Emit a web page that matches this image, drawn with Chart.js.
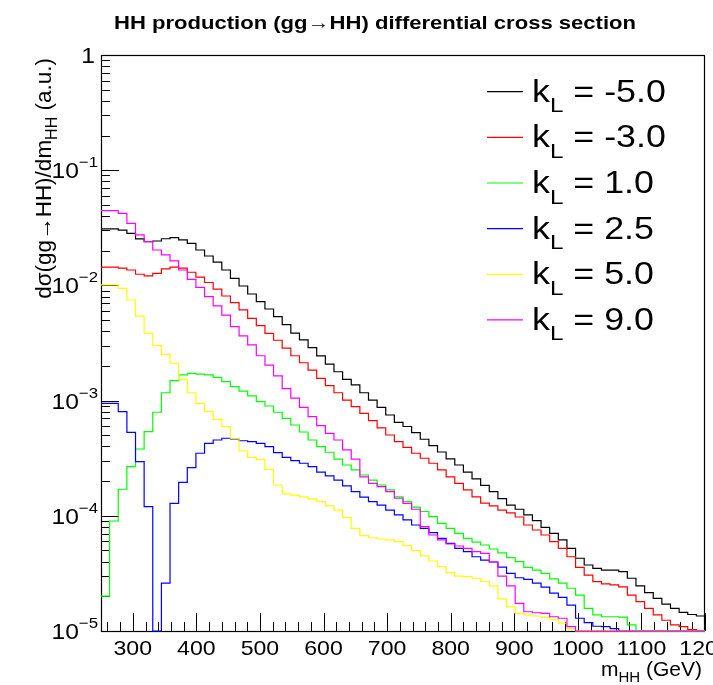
<!DOCTYPE html>
<html><head><meta charset="utf-8">
<script src="https://cdn.jsdelivr.net/npm/chart.js@4.4.1/dist/chart.umd.min.js"></script>
<style>html,body{margin:0;padding:0;background:#fff;overflow:hidden}#wrap{width:713px;height:685px;position:relative}canvas{display:block}</style>
</head><body><div id="wrap"><canvas id="c" width="713" height="685"></canvas></div>
<script>
// ---- histogram binning (m_HH, GeV) ----
const xLow = 250, xHigh = 1200, nBins = 70;
// ---- series ----
const seriesLabels = ['-5.0', '-3.0', '1.0', '2.5', '5.0', '9.0'];
const seriesColors = ['#000000', '#ff0000', '#00ff00', '#0000ff', '#ffff00', '#ff00ff'];
const kLm5 = [0.0309,0.0309,0.0302,0.0283,0.0253,0.0240,0.0243,0.0254,0.0260,0.0248,
0.0232,0.0203,0.0180,0.0159,0.0136,0.0115,0.00988,0.00842,0.00722,0.00624,
0.00535,0.00456,0.00386,0.00336,0.00288,0.00244,0.00207,0.00178,0.00153,0.00137,
0.00117,0.00101,8.75e-4,7.50e-4,6.48e-4,5.96e-4,5.28e-4,4.62e-4,4.06e-4,3.58e-4,
3.12e-4,2.76e-4,2.39e-4,2.09e-4,1.84e-4,1.62e-4,1.41e-4,1.24e-4,1.14e-4,1.02e-4,
9.07e-5,7.95e-5,7.05e-5,6.17e-5,5.22e-5,4.28e-5,3.74e-5,3.50e-5,3.38e-5,3.38e-5,
3.27e-5,2.87e-5,2.46e-5,2.15e-5,1.92e-5,1.71e-5,1.57e-5,1.45e-5,1.39e-5,1.35e-5];
const kLm3 = [0.0144,0.0144,0.0141,0.0136,0.0125,0.0121,0.0127,0.0139,0.0144,0.0141,
0.0130,0.0118,0.0106,0.0093,0.00809,0.00708,0.00612,0.00518,0.00447,0.00384,
0.00334,0.00286,0.00245,0.00213,0.00184,0.00156,0.00135,0.00117,0.00101,8.85e-4,
7.76e-4,6.69e-4,5.80e-4,5.03e-4,4.40e-4,3.92e-4,3.49e-4,3.16e-4,2.86e-4,2.50e-4,
2.18e-4,1.91e-4,1.68e-4,1.46e-4,1.29e-4,1.22e-4,1.12e-4,1.06e-4,9.76e-5,8.32e-5,
7.53e-5,6.81e-5,5.96e-5,5.22e-5,4.41e-5,3.57e-5,3.06e-5,2.68e-5,2.56e-5,2.51e-5,
2.42e-5,2.05e-5,1.80e-5,1.57e-5,1.38e-5,1.24e-5,1.13e-5,1.09e-5,1.03e-5,1.01e-5];
const kL1 = [2.01e-5,9.01e-5,1.70e-4,2.67e-4,3.80e-4,5.37e-4,7.92e-4,1.17e-3,1.49e-3,1.67e-3,
1.72e-3,1.70e-3,1.67e-3,1.59e-3,1.46e-3,1.32e-3,1.21e-3,1.10e-3,9.78e-4,8.98e-4,
7.92e-4,7.02e-4,6.14e-4,5.34e-4,4.55e-4,3.98e-4,3.56e-4,3.11e-4,2.76e-4,2.50e-4,
2.26e-4,2.04e-4,1.85e-4,1.68e-4,1.46e-4,1.33e-4,1.19e-4,1.09e-4,9.82e-5,8.61e-5,
7.79e-5,7.05e-5,6.38e-5,5.92e-5,5.58e-5,5.15e-5,4.76e-5,4.33e-5,4.00e-5,3.57e-5,
3.38e-5,3.17e-5,2.83e-5,2.60e-5,2.35e-5,2.05e-5,1.57e-5,1.38e-5,1.33e-5,1.33e-5,
1.32e-5,1.13e-5,0,0,0,0,0,0,0,0];
const kL2p5 = [9.47e-4,9.47e-4,8.01e-4,5.30e-4,2.95e-4,1.20e-4,0,2.60e-5,1.28e-4,1.95e-4,
2.62e-4,3.49e-4,4.26e-4,4.55e-4,4.71e-4,4.64e-4,4.48e-4,4.40e-4,4.26e-4,3.98e-4,
3.53e-4,3.22e-4,3.01e-4,2.86e-4,2.67e-4,2.39e-4,2.22e-4,2.04e-4,1.82e-4,1.62e-4,
1.45e-4,1.33e-4,1.24e-4,1.12e-4,1.02e-4,9.20e-5,8.32e-5,7.79e-5,7.13e-5,6.38e-5,
5.77e-5,5.22e-5,4.88e-5,4.41e-5,4.13e-5,3.97e-5,3.59e-5,3.17e-5,2.90e-5,2.81e-5,
2.60e-5,2.40e-5,2.13e-5,1.96e-5,1.68e-5,1.29e-5,1.18e-5,1.10e-5,1.09e-5,1.05e-5,
0,0,0,0,0,0,0,0,0,0];
const kL5 = [0.0101,0.0101,0.00944,0.00747,0.00542,0.00384,0.00300,0.00252,0.00211,0.00153,
0.00117,9.47e-4,8.01e-4,6.88e-4,5.94e-4,4.71e-4,3.65e-4,3.22e-4,3.09e-4,2.53e-4,
1.85e-4,1.55e-4,1.51e-4,1.46e-4,1.40e-4,1.33e-4,1.22e-4,1.12e-4,9.63e-5,7.79e-5,
6.72e-5,6.45e-5,6.29e-5,6.17e-5,5.96e-5,5.50e-5,4.98e-5,4.48e-5,4.05e-5,3.62e-5,
3.21e-5,3.00e-5,2.96e-5,2.87e-5,2.69e-5,2.46e-5,1.90e-5,1.62e-5,1.42e-5,1.38e-5,
1.35e-5,1.32e-5,1.26e-5,1.17e-5,1.05e-5,0,0,0,0,0,
0,0,0,0,0,0,0,0,0,0];
const kL9 = [0.0445,0.0445,0.0422,0.0346,0.0274,0.0240,0.0203,0.0184,0.0163,0.0136,
0.0113,0.00963,0.00798,0.00663,0.00553,0.00438,0.00364,0.00304,0.00245,0.00203,
0.00164,0.00127,0.00105,8.75e-4,7.25e-4,6.06e-4,5.20e-4,4.55e-4,3.73e-4,3.11e-4,
2.18e-4,1.91e-4,1.79e-4,1.62e-4,1.42e-4,1.28e-4,1.14e-4,8.04e-5,6.81e-5,6.17e-5,
5.69e-5,5.47e-5,5.22e-5,4.88e-5,4.71e-5,3.97e-5,3.00e-5,2.46e-5,1.74e-5,1.47e-5,
1.44e-5,1.42e-5,1.33e-5,1.29e-5,1.09e-5,0,0,0,0,0,
0,0,0,0,0,0,0,0,0,0];
const seriesValues = [kLm5, kLm3, kL1, kL2p5, kL5, kL9];
// ---- axes ----
const yMin = 1e-5, yMax = 1;
const yTickValues = [1e-5, 1e-4, 1e-3, 1e-2, 1e-1, 1];
const yTickLabels = [['10','\u22125'],['10','\u22124'],['10','\u22123'],['10','\u22122'],['10','\u22121'],['1','']];
const xTickValues = [300, 400, 500, 600, 700, 800, 900, 1000, 1100, 1200];
const xTickLabels = ['300','400','500','600','700','800','900','1000','1100','1200'];
const titleText = 'HH production (gg\u2192HH) differential cross section';

const binWidth = (xHigh - xLow) / nBins;
const edges = Array.from({length: nBins + 1}, (_, i) => xLow + i * binWidth);

const datasets = seriesValues.map((vals, s) => {
  const pts = vals.map((v, i) => ({x: edges[i], y: v > yMin ? v : yMin}));
  pts.push({x: edges[nBins], y: pts[pts.length - 1].y});
  return {
    label: 'k_L = ' + seriesLabels[s],
    data: pts,
    borderColor: seriesColors[s],
    borderWidth: 1.2,
    pointRadius: 0,
    stepped: 'before',
    fill: false,
    clip: 3,
    order: seriesValues.length - s
  };
});

const SANS = "'Liberation Sans', Arial, Helvetica, sans-serif";

const axesPlugin = {
  id: 'rootAxes',
  beforeDatasetsDraw(chart) {
    const {ctx, chartArea: a, scales: {x, y}} = chart;
    ctx.save();
    ctx.strokeStyle = '#000';
    ctx.lineWidth = 1;
    for (let d = -5; d <= 0; d++) {
      const base = Math.pow(10, d);
      const py = Math.round(y.getPixelForValue(base)) + 0.5;
      ctx.beginPath(); ctx.moveTo(a.left, py); ctx.lineTo(a.left + 18, py); ctx.stroke();
      if (d < 0) {
        for (let m = 2; m <= 9; m++) {
          const my = Math.round(y.getPixelForValue(m * base)) + 0.5;
          ctx.beginPath(); ctx.moveTo(a.left, my); ctx.lineTo(a.left + 9, my); ctx.stroke();
        }
      }
    }
    for (let v = 260; v <= 1200; v += 20) {
      const px = Math.round(x.getPixelForValue(v)) + 0.5;
      const len = (v % 100 === 0) ? 18 : 9;
      ctx.beginPath(); ctx.moveTo(px, a.bottom); ctx.lineTo(px, a.bottom - len); ctx.stroke();
    }
    ctx.lineWidth = 1.2;
    ctx.strokeRect(Math.round(a.left) + 0.5, Math.round(a.top) + 0.5, Math.round(a.right - a.left) - 1, Math.round(a.bottom - a.top));
    ctx.restore();
  }
};

// runs: [text, fontSize, dy]; sx = horizontal stretch
function runsWidth(ctx, runs, sx) {
  let w = 0;
  for (const [t, size] of runs) { ctx.font = size + 'px ' + SANS; w += ctx.measureText(t).width; }
  return w * (sx || 1);
}
function drawRuns(ctx, runs, x, y, sx) {
  sx = sx || 1;
  ctx.save();
  ctx.translate(x, y);
  ctx.scale(sx, 1);
  let cx = 0;
  for (const [t, size, dy] of runs) {
    ctx.font = size + 'px ' + SANS;
    ctx.fillText(t, cx, dy);
    cx += ctx.measureText(t).width;
  }
  ctx.restore();
}

const textPlugin = {
  id: 'rootText',
  afterDraw(chart) {
    const {ctx, chartArea: a, scales: {x, y}} = chart;
    ctx.save();
    ctx.fillStyle = '#000';
    ctx.textBaseline = 'alphabetic';
    ctx.textAlign = 'left';
    // title
    ctx.font = "bold 19px 'Liberation Sans', Arial, sans-serif";
    const tw = ctx.measureText(titleText).width;
    const targetW = 522;
    ctx.save();
    ctx.translate(114, 29);
    ctx.scale(targetW / tw, 1);
    ctx.fillText(titleText, 0, 0);
    ctx.restore();
    // y tick labels
    yTickValues.forEach((v, i) => {
      const py = y.getPixelForValue(v);
      const [base, exp] = yTickLabels[i];
      const runs = exp ? [[base, 22, 8], [exp, 15, -3]] : [[base, 22, 8]];
      const w = runsWidth(ctx, runs, 1.12);
      drawRuns(ctx, runs, (exp ? 98 : 95) - w, py, 1.12);
    });
    // x tick labels
    xTickValues.forEach((v, i) => {
      const r = [[xTickLabels[i], 21, 0]];
      const w = runsWidth(ctx, r, 1.1);
      drawRuns(ctx, r, x.getPixelForValue(v) - w / 2, 655, 1.1);
    });
    // x title
    const xr = [['m', 21, 0], ['HH', 15, 6], [' (GeV)', 21, 0]];
    drawRuns(ctx, xr, 702 - runsWidth(ctx, xr), 676);
    // y title (rotated)
    const yr = [['d\u03c3(gg\u2192HH)/dm', 22.5, 0], ['HH', 16, 6], [' (a.u.)', 22.5, 0]];
    ctx.save();
    ctx.translate(51, 58);
    ctx.rotate(-Math.PI / 2);
    drawRuns(ctx, yr, -runsWidth(ctx, yr), 0);
    ctx.restore();
    // legend
    seriesLabels.forEach((lab, i) => {
      const ly = 91.7 + 45.65 * i;
      ctx.strokeStyle = seriesColors[i];
      ctx.lineWidth = 1.2;
      ctx.beginPath(); ctx.moveTo(487, ly); ctx.lineTo(523, ly); ctx.stroke();
      drawRuns(ctx, [['k', 31, 10], ['L', 21, 20.5], [' = ' + lab, 31, 10]], 532, ly, 1.155);
    });
    ctx.restore();
  }
};

new Chart(document.getElementById('c'), {
  type: 'line',
  data: {datasets},
  options: {
    responsive: false,
    animation: false,
    devicePixelRatio: 1,
    layout: {padding: {left: 101, top: 55, right: 8, bottom: 54}},
    plugins: {legend: {display: false}, title: {display: false}, tooltip: {enabled: false}},
    elements: {point: {radius: 0}, line: {tension: 0}},
    scales: {
      x: {type: 'linear', min: xLow, max: xHigh, display: false},
      y: {type: 'logarithmic', min: yMin, max: yMax, display: false}
    }
  },
  plugins: [axesPlugin, textPlugin]
});
</script>
</body></html>
